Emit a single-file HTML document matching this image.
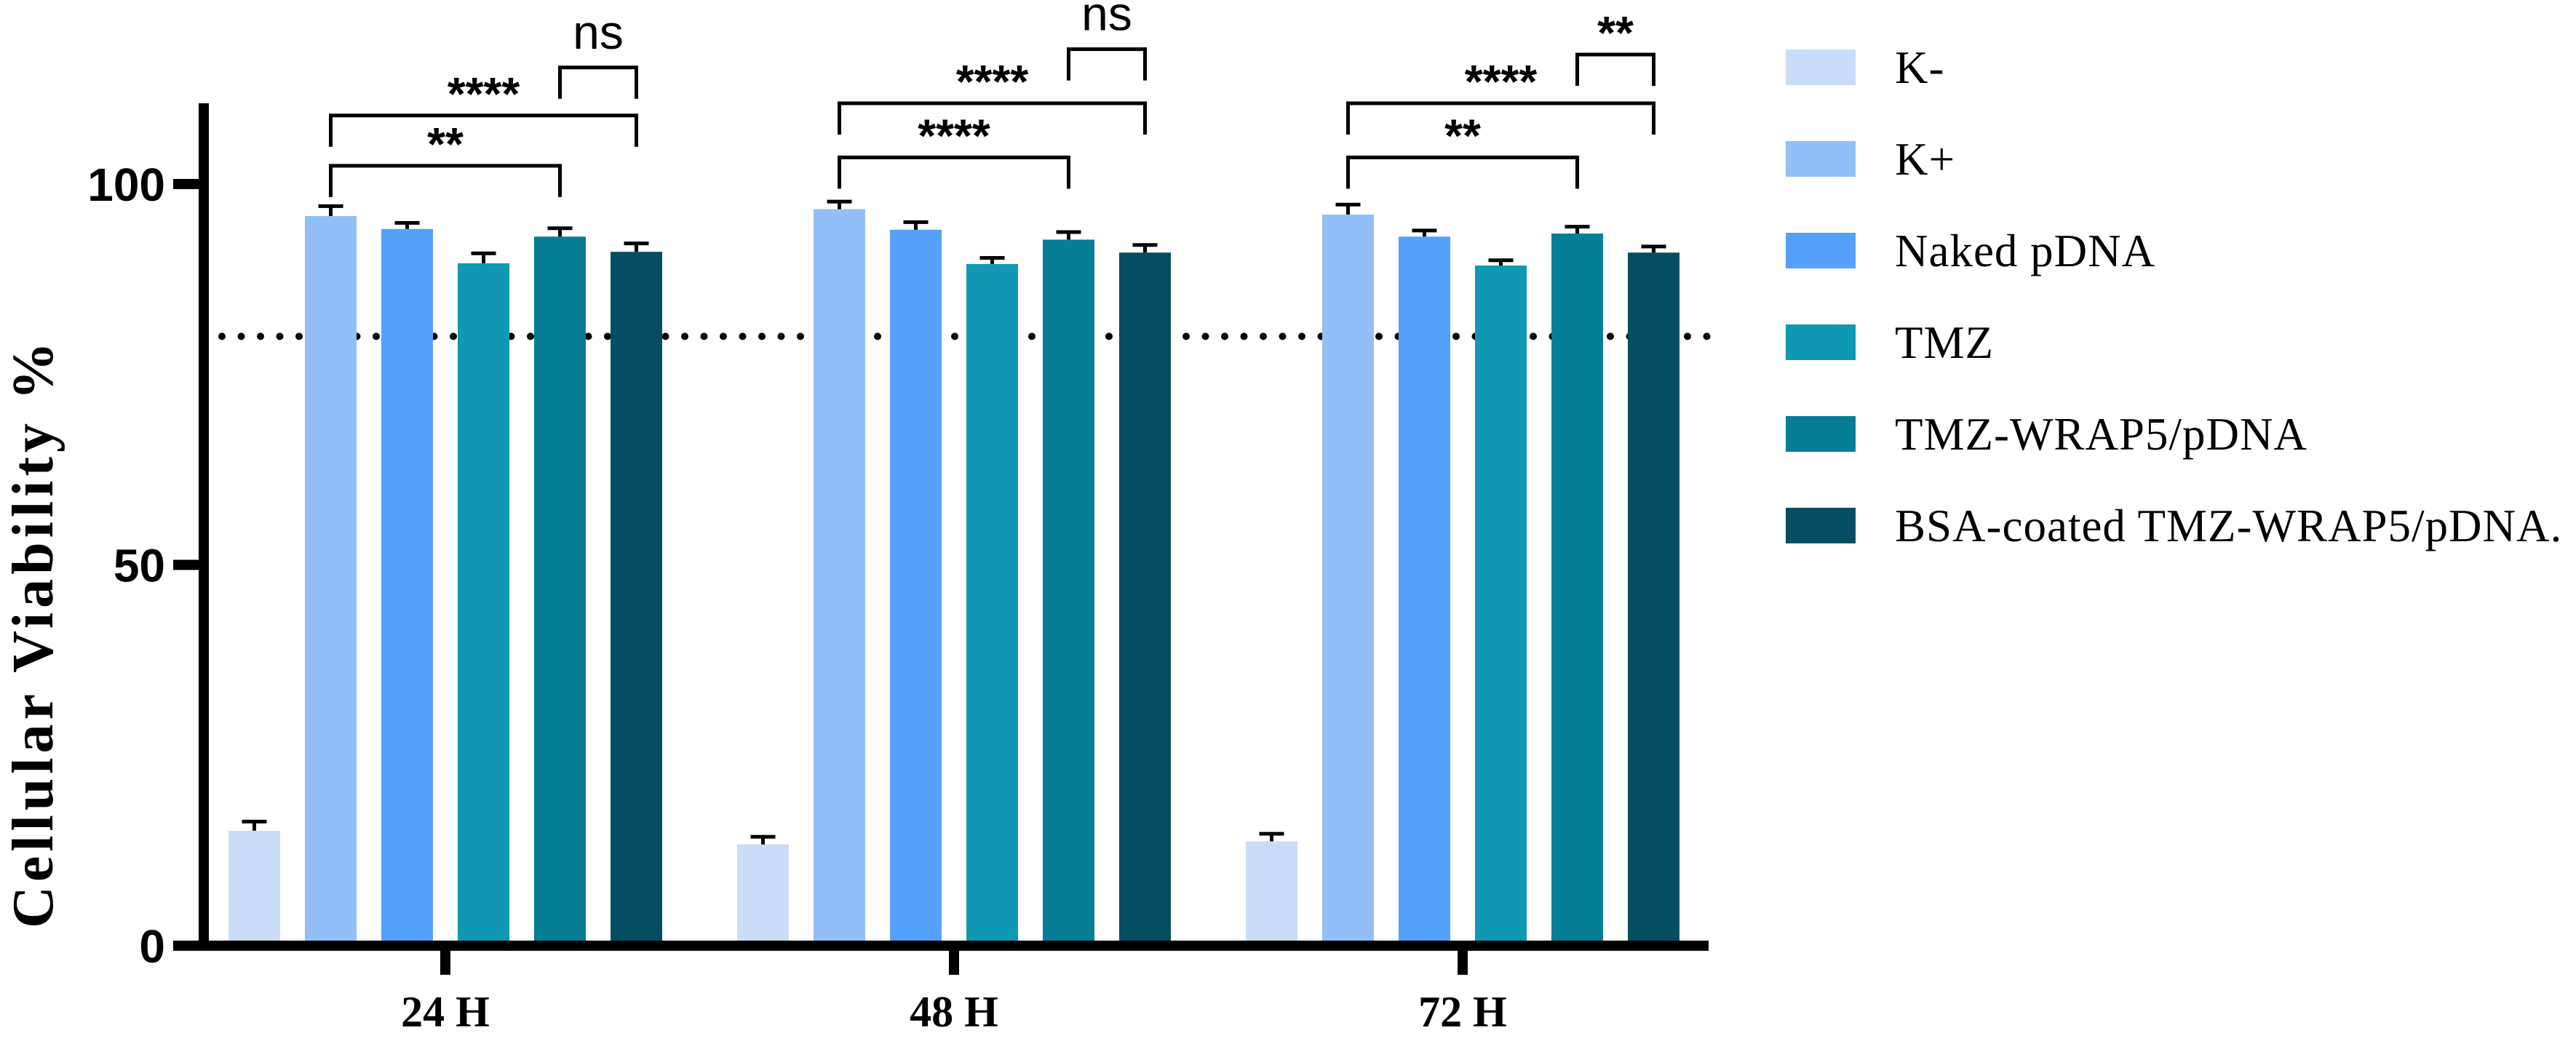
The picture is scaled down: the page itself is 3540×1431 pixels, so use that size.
<!DOCTYPE html>
<html><head><meta charset="utf-8"><style>
html,body{margin:0;padding:0;background:#fff;}
svg{display:block;}
</style></head><body>
<svg id="chart" width="3540" height="1431" viewBox="0 0 3540 1431" xmlns="http://www.w3.org/2000/svg">
<g id="plot"></g>
<g id="legend"></g>
</svg>
<script>
const categories = ["24 H", "48 H", "72 H"];
const seriesNames = ["K-", "K+", "Naked pDNA", "TMZ", "TMZ-WRAP5/pDNA", "BSA-coated TMZ-WRAP5/pDNA."];
const seriesColors = ["#c9ddf7", "#93bff8", "#55a0fb", "#0f99b3", "#077d96", "#044e63"];
const kMinus = [15.1, 13.3, 13.7];
const kPlus = [95.8, 96.7, 96.0];
const naked = [94.1, 94.0, 93.1];
const tmz = [89.6, 89.5, 89.3];
const tmzWrap = [93.1, 92.7, 93.5];
const bsa = [91.1, 91.0, 91.0];
const errKMinus = [1.2, 1.0, 1.0];
const errKPlus = [1.3, 1.0, 1.3];
const errNaked = [0.8, 1.0, 0.8];
const errTmz = [1.3, 0.8, 0.7];
const errTmzWrap = [1.1, 1.0, 0.9];
const errBsa = [1.1, 1.0, 0.8];
const yTicks = [0, 50, 100];
const threshold = 80;
// significance annotations: [group, fromSeries, toSeries, level, label]
const sigLabels = [
  [0,1,4,102.4,"**"],[0,1,5,109.0,"****"],[0,4,5,115.3,"ns"],
  [1,1,4,103.5,"****"],[1,1,5,110.6,"****"],[1,4,5,117.7,"ns"],
  [2,1,4,103.5,"**"],[2,1,5,110.6,"****"],[2,4,5,117.0,"**"]
];
const values = [kMinus,kPlus,naked,tmz,tmzWrap,bsa];
const errors = [errKMinus,errKPlus,errNaked,errTmz,errTmzWrap,errBsa];

const NS = "http://www.w3.org/2000/svg";
const plot = document.getElementById('plot');
const legend = document.getElementById('legend');
const y0 = 1300, pxPerUnit = 10.47;
function yScale(v){ return y0 - v*pxPerUnit; }
const groupCenters0 = 612, groupStep = 699, barStep = 105, barW = 71;
function groupX(i){ return groupCenters0 + i*groupStep; }
function barX(g,s){ return groupX(g) + (s-2.5)*barStep; }
function mk(tag, attrs, parent){
  const e = document.createElementNS(NS, tag);
  for (const k in attrs) e.setAttribute(k, attrs[k]);
  (parent||plot).appendChild(e);
  return e;
}

// threshold dotted line
let dl = mk('line',{x1:305,x2:2348,y1:yScale(threshold),y2:yScale(threshold),stroke:'#000','stroke-width':10,'stroke-dasharray':'0 26.5','stroke-linecap':'round'});



// bars
for (let s=0;s<values.length;s++){
  for (let g=0; g<categories.length; g++){
    const v = values[s][g], e = errors[s][g];
    const cx = barX(g,s);
    const r = mk('rect',{x:cx-barW/2,y:yScale(v),width:barW,height:yScale(0)-yScale(v),fill:seriesColors[s]});
    
    
    const eb = mk('path',{d:`M${cx},${yScale(v)} V${yScale(v+e)} M${cx-17},${yScale(v+e)} H${cx+17}`,stroke:'#000','stroke-width':5,fill:'none'});
    
    
  }
}

// axes
let ya = mk('line',{x1:280,x2:280,y1:142,y2:1307,stroke:'#000','stroke-width':14});


let xa = mk('line',{x1:238,x2:2348,y1:1300,y2:1300,stroke:'#000','stroke-width':14});


for (const t of yTicks){
  const tl = mk('line',{x1:238,x2:280,y1:yScale(t),y2:yScale(t),stroke:'#000','stroke-width':14});
  
  
  const tx = mk('text',{x:227,y:yScale(t)+23,'text-anchor':'end','font-family':'Liberation Sans, sans-serif','font-weight':'bold','font-size':64});
  tx.textContent = t;
  
  
}
for (let g=0; g<categories.length; g++){
  const tl = mk('line',{x1:groupX(g),x2:groupX(g),y1:1300,y2:1340,stroke:'#000','stroke-width':14});
  
  
  const tx = mk('text',{x:groupX(g),y:1411,'text-anchor':'middle','font-family':'Liberation Serif, serif','font-weight':'bold','font-size':60});
  tx.textContent = categories[g];
  
  
}
let yt = mk('text',{x:0,y:0,'text-anchor':'middle','font-family':'Liberation Serif, serif','font-weight':'bold','font-size':80,'letter-spacing':6,transform:'translate(72,870) rotate(-90)'});
yt.textContent = 'Cellular Viability %';



// significance brackets
for (const [g,a,b,lvl,lab] of sigLabels){
  const xa1 = barX(g,a), xb1 = barX(g,b), yy = yScale(lvl), leg = 43;
  const p = mk('path',{d:`M${xa1},${yy+leg} V${yy} H${xb1} V${yy+leg}`,stroke:'#000','stroke-width':5,fill:'none'});
  
  
  const t = mk('text',{x:(xa1+xb1)/2,y:lab==='ns'?yy-26:yy-8,'text-anchor':'middle','font-family':'Liberation Sans, sans-serif','font-size':lab==='ns'?66:64,'font-weight':lab==='ns'?'normal':'bold'});
  t.textContent = lab;
  
  
}

// legend
for (let s=0;s<seriesNames.length;s++){
  const yy = 93 + s*126;
  const r = mk('rect',{x:2454,y:yy-25,width:96,height:49,fill:seriesColors[s]},legend);
  
  
  const t = mk('text',{x:2604,y:yy+21,'font-family':'Liberation Serif, serif','font-size':63,'letter-spacing':1},legend);
  t.textContent = seriesNames[s];
  
  
}
</script>
</body></html>
